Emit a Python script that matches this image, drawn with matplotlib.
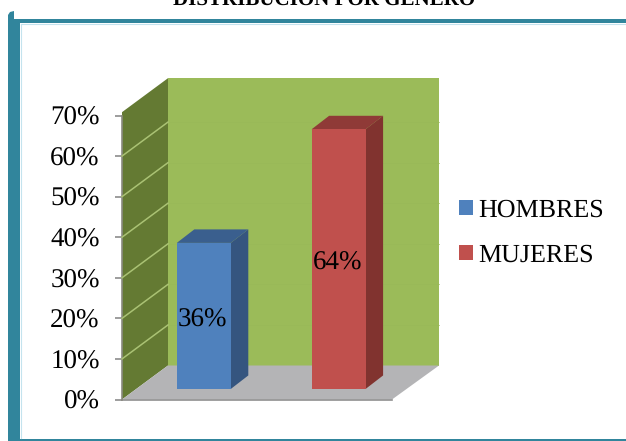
import matplotlib
matplotlib.use('Agg')
import matplotlib.pyplot as plt
from matplotlib.patches import Polygon, Rectangle

plt.rcParams['font.family'] = ['Liberation Serif', 'DejaVu Serif']
plt.rcParams['text.hinting'] = 'no_hinting'
plt.rcParams['text.hinting_factor'] = 1

categorias = ['HOMBRES', 'MUJERES']
valores = [36, 64]
etiquetas = ['36%', '64%']
ticks = [0, 10, 20, 30, 40, 50, 60, 70]
tick_labels = ['0%', '10%', '20%', '30%', '40%', '50%', '60%', '70%']

W, H = 626, 441
PX = 284 / 70  # pixeles por cada 1%
DX, DY = 46, 34 / PX  # profundidad del piso/pared
TOPE = 79.2  # alto de la pared

fig = plt.figure(figsize=(W / 100, H / 100), dpi=100, facecolor='white')

# marco azul
marco = fig.add_axes([0, 0, 1, 1])
marco.set_xlim(0, W)
marco.set_ylim(H, 0)
marco.axis('off')
marco.add_patch(Polygon([(8, H), (8, 15), (10, 12), (14, 11), (14, 19), (W, 19), (W, 23), (20, 23),
                         (20, 439), (W, 439), (W, H)], fc='#31859C', ec='none'))
marco.plot([21, W], [23.8, 23.8], color='#c4e3ee', lw=0.8)
marco.plot([20.8, 20.8], [24, 438], color='#c4e3ee', lw=0.8)
marco.text(324, 5, 'DISTRIBUCIÓN POR GÉNERO', fontsize=15, fontweight='bold', ha='center', va='baseline')

ax = fig.add_axes([122 / W, 1 - 399.5 / H, 270 / W, 284 / H])
ax.patch.set_visible(False)
ax.set_xlim(0, 270)
ax.set_ylim(0, 70)
for s in ax.spines.values():
    s.set_visible(False)
ax.set_xticks([])
ax.set_yticks(ticks)
ax.set_yticklabels(tick_labels, fontsize=19.2)
ax.tick_params(axis='y', length=5, width=1.2, color='#8c8c8c', pad=11)


def poli(puntos, color, z=1, ec='none'):
    ax.add_patch(Polygon(puntos, fc=color, ec=ec, lw=0.6, zorder=z, clip_on=False))


# pared de atras, pared izquierda y piso
poli([(DX, DY), (DX + 271, DY), (DX + 271, TOPE), (DX, TOPE)], '#9BBB59')
poli([(0, 0), (DX, DY), (DX, TOPE), (0, TOPE - DY)], '#647A33')
poli([(0, 0), (270, 0), (270 + DX + 1, DY), (DX, DY)], '#B4B4B6')
ax.plot([0, 270], [-0.2, -0.2], color='#8f8f8f', lw=1.2, clip_on=False, zorder=2)
ax.plot([0, 0], [0, 70], color='#8a8a80', lw=1.2, clip_on=False, zorder=2)

for v in ticks[1:-1]:
    ax.plot([0, DX], [v, v + DY], color='#aac274', lw=1.1, clip_on=False, zorder=2)
    ax.plot([DX, DX + 271], [v + DY, v + DY], color='#99b958', lw=0.5, clip_on=False, zorder=1.5)

# barras
colores = ['#4F81BD', '#C0504D']
lados = ['#35557F', '#81332F']
techos = ['#3A5F8E', '#8F3A37']
xpos = [54.8, 189.6]
ancho = 54
base = 2.6
fx, fy = 17.5, 13.5 / PX

for i in range(len(valores)):
    x0, x1 = xpos[i], xpos[i] + ancho
    y1 = base + valores[i]
    poli([(x1, base), (x1 + fx, base + fy), (x1 + fx, y1 + fy), (x1, y1)], lados[i], 3)
    poli([(x0, y1), (x1, y1), (x1 + fx, y1 + fy), (x0 + fx, y1 + fy)], techos[i], 3)
    poli([(x0, base), (x1, base), (x1, y1), (x0, y1)], colores[i], 4)

ax.text(xpos[0] + ancho / 2 - 1, 19.5, etiquetas[0], fontsize=19.2, ha='center', va='center', zorder=5)
ax.text(xpos[1] + ancho / 2 - 1, 33.7, etiquetas[1], fontsize=19.2, ha='center', va='center', zorder=5)

# leyenda
handles = [Rectangle((0, 0), 1, 1, fc=c, ec='none') for c in colores]
marco.set_zorder(0)
ax.set_zorder(1)
fig.legend(handles, categorias, loc='center left', bbox_to_anchor=(459 / W, 1 - 233 / H), frameon=False,
           fontsize=19, handlelength=0.52, handleheight=0.52, handletextpad=0.22, labelspacing=0.82,
           borderpad=0, borderaxespad=0)

fig.savefig('out.png', dpi=100)
